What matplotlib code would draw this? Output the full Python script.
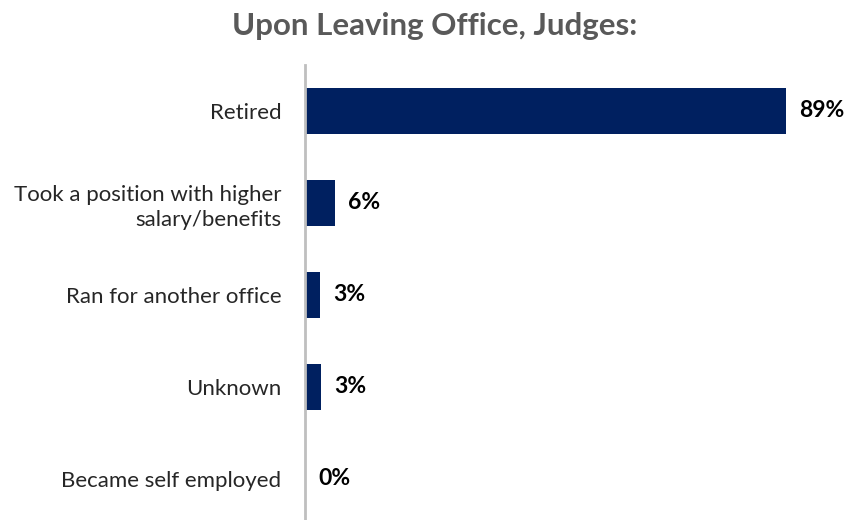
import matplotlib.pyplot as plt
import numpy as np

categories = ["Retired", "Took a position with higher\nsalary/benefits", "Ran for another office",
              "Unknown", "Became self employed"]
values = [88.9, 5.6, 2.8, 3.0, 0.0]
labels = ["89%", "6%", "3%", "3%", "0%"]

plt.rcParams['font.family'] = ['Lato', 'DejaVu Sans']

W, H = 848, 520
fig = plt.figure(figsize=(W / 100, H / 100), dpi=100)
ax = fig.add_axes([305 / W, 0, 541.6 / W, 455 / H])

y = np.arange(len(categories))
ax.barh(y, values, height=0.49, color='#002060')
ax.set_xlim(0, 100)
ax.set_ylim(4.446, -0.5)

for yi, v, lab in zip(y, values, labels):
    ax.text(v + 2.4, yi, lab, va='center', ha='left', fontsize=16.5, fontweight='bold', color='black')

ax.set_yticks(y, categories, fontsize=16, color='#262626', linespacing=1.3)
ax.tick_params(axis='y', length=0, pad=17)
ax.set_xticks([])
for s in ['top', 'right', 'bottom']:
    ax.spines[s].set_visible(False)
ax.spines['left'].set_color('#bfbfbf')
ax.spines['left'].set_linewidth(2)

fig.text(435 / W, 1 - 26 / H, "Upon Leaving Office, Judges:", ha='center', va='center',
         fontsize=22.5, fontweight='bold', color='#595959')

fig.savefig('out.png', dpi=100)
